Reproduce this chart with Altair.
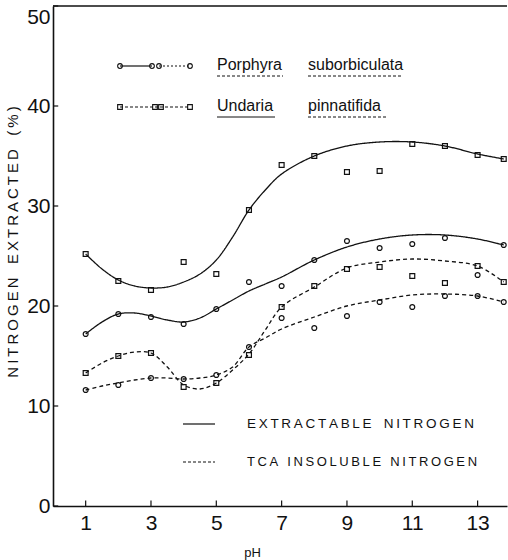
import altair as alt
import pandas as pd

# ---- measured points (pH, % nitrogen extracted) ----
ph = [1, 2, 3, 4, 5, 6, 7, 8, 9, 10, 11, 12, 13, 13.8]
porphyra_ext = [17.2, 19.2, 18.9, 18.2, 19.7, 22.4, 22.0, 24.6, 26.5, 25.8, 26.2, 26.8, 23.1, 26.1]
undaria_ext = [25.2, 22.5, 21.6, 24.4, 23.2, 29.6, 34.1, 35.0, 33.4, 33.5, 36.2, 36.0, 35.1, 34.7]
porphyra_tca = [11.6, 12.1, 12.8, 12.7, 13.1, 15.9, 18.8, 17.8, 19.0, 20.4, 19.9, 21.0, 21.0, 20.4]
undaria_tca = [13.3, 15.0, 15.3, 11.9, 12.3, 15.1, 19.9, 22.0, 23.7, 23.9, 23.0, 22.3, 24.0, 22.4]

# ---- hand-drawn fitted curves ----
curve_ph = [1, 1.5, 2, 2.5, 3, 3.5, 4, 4.5, 5, 5.5, 6, 6.5, 7, 8, 9, 10, 11, 12, 13, 13.8]
undaria_ext_curve = [25.2, 23.7, 22.6, 22.0, 21.8, 21.9, 22.4, 23.2, 24.6, 26.9, 29.6, 31.6, 33.2, 35.0, 36.0, 36.4, 36.4, 36.0, 35.2, 34.7]
porphyra_ext_curve = [17.2, 18.4, 19.2, 19.3, 19.0, 18.6, 18.4, 18.8, 19.7, 20.6, 21.5, 22.2, 22.9, 24.6, 25.9, 26.7, 27.1, 27.1, 26.7, 26.1]
undaria_tca_curve = [13.3, 14.3, 15.0, 15.4, 15.3, 13.9, 12.1, 11.7, 12.3, 13.6, 15.2, 17.6, 19.9, 21.9, 23.8, 24.4, 24.7, 24.5, 24.0, 22.4]
porphyra_tca_curve = [11.6, 12.0, 12.3, 12.6, 12.8, 12.8, 12.7, 12.8, 13.1, 13.9, 15.9, 16.8, 17.7, 18.9, 20.0, 20.6, 21.1, 21.2, 21.0, 20.4]

x_ticks = [1, 3, 5, 7, 9, 11, 13]
y_ticks = [0, 10, 20, 30, 40, 50]

FONT = "Liberation Sans"
INK = "#111111"
THIN = "\u2009"
GAP = "\u2002" + THIN + THIN
GAP_S = "\u2002" + THIN


def spaced(s):
    return THIN.join(list(s))


series = [
    ("Porphyra", "ext", porphyra_ext, porphyra_ext_curve),
    ("Undaria", "ext", undaria_ext, undaria_ext_curve),
    ("Porphyra", "tca", porphyra_tca, porphyra_tca_curve),
    ("Undaria", "tca", undaria_tca, undaria_tca_curve),
]
pt_rows, cv_rows = [], []
for sp, fr, vals, cvals in series:
    for p, v in zip(ph, vals):
        pt_rows.append(dict(ph=p, value=v, species=sp, fraction=fr, series=sp + fr))
    for p, v in zip(curve_ph, cvals):
        cv_rows.append(dict(ph=p, value=v, species=sp, fraction=fr, series=sp + fr))
points_df = pd.DataFrame(pt_rows)
curves_df = pd.DataFrame(cv_rows)

xscale = alt.Scale(domain=[0, 13.9], nice=False, zero=False)
yscale = alt.Scale(domain=[0, 50], nice=False)

x_axis = alt.Axis(values=x_ticks, format="d", ticks=False, grid=False,
                  labelFont=FONT, labelFontSize=21, labelColor=INK, labelPadding=6,
                  domainColor=INK, domainWidth=1.6,
                  title="pH", titleFont=FONT, titleFontSize=13, titleFontWeight="normal",
                  titleColor=INK, titleX=199, titleY=46, titleAlign="center", titleBaseline="middle")
y_axis = alt.Axis(values=y_ticks, format="d", ticks=False, grid=False,
                  labelFont=FONT, labelFontSize=21, labelColor=INK, labelPadding=3,
                  labelBaseline={"condition": {"test": "datum.value == 50", "value": "top"}, "value": "middle"},
                  domainColor=INK, domainWidth=1.6, title=None)


def X(field):
    return alt.X(field, scale=xscale, axis=x_axis, title="pH")


def Y(field):
    return alt.Y(field, scale=yscale, axis=y_axis, title=None)


curves = alt.Chart(curves_df).mark_line(interpolate="catmull-rom", color=INK, strokeWidth=1.3).encode(
    x=X("ph:Q"),
    y=Y("value:Q"),
    detail="series:N",
    strokeDash=alt.StrokeDash("fraction:N", scale=alt.Scale(domain=["ext", "tca"], range=[[1, 0], [4, 3]]), legend=None),
)

points = alt.Chart(points_df).mark_point(filled=False, size=24, strokeWidth=1.2, color=INK, opacity=1).encode(
    x=X("ph:Q"),
    y=Y("value:Q"),
    shape=alt.Shape("species:N", scale=alt.Scale(domain=["Porphyra", "Undaria"], range=["circle", "square"]), legend=None),
)

# inward ticks and top frame line
xt = alt.Chart(pd.DataFrame({"t": x_ticks, "lo": [0] * len(x_ticks), "hi": [0.55] * len(x_ticks)})).mark_rule(
    color=INK, strokeWidth=1.2).encode(x=X("t:Q"), y=Y("lo:Q"), y2="hi:Q")
yt = alt.Chart(pd.DataFrame({"t": y_ticks, "lo": [0] * len(y_ticks), "hi": [0.16] * len(y_ticks)})).mark_rule(
    color=INK, strokeWidth=1.2).encode(y=Y("t:Q"), x=X("lo:Q"), x2="hi:Q")
top = alt.Chart(pd.DataFrame({"t": [50], "lo": [0], "hi": [13.9]})).mark_rule(color=INK, strokeWidth=1.4).encode(
    y=Y("t:Q"), x=X("lo:Q"), x2="hi:Q")

one = pd.DataFrame({"a": [0]})


def txt(s, x, y, size, angle=0, font=FONT):
    return alt.Chart(one).mark_text(text=s, font=font, fontSize=size, angle=angle,
                                    align="left" if angle == 0 else "center", baseline="middle", color=INK
                                    ).encode(x=alt.value(x), y=alt.value(y))


def seg(x1, x2, y, dash=None, w=1.2):
    kw = dict(color=INK, strokeWidth=w)
    if dash:
        kw["strokeDash"] = dash
    return alt.Chart(one).mark_rule(**kw).encode(x=alt.value(x1), x2=alt.value(x2), y=alt.value(y))


def mk(x, y, shape):
    return alt.Chart(one).mark_point(shape=shape, filled=False, size=22, strokeWidth=1.1, color=INK, opacity=1
                                     ).encode(x=alt.value(x), y=alt.value(y))


# species legend (plot coordinates)
r1, r2 = 60, 101
legend_top = [
    seg(67, 99, r1), seg(106, 137, r1, dash=[2, 2]),
    mk(67, r1, "circle"), mk(99, r1, "circle"), mk(106, r1, "circle"), mk(137, r1, "circle"),
    seg(67, 137, r2, dash=[3, 2]),
    mk(67, r2, "square"), mk(102, r2, "square"), mk(108, r2, "square"), mk(137, r2, "square"),
    txt("Porphyra", 164, r1 - 1, 16), txt("suborbiculata", 255, r1 - 1, 16),
    txt("Undaria", 164, r2 - 1, 16), txt("pinnatifida", 255, r2 - 1, 16),
    seg(164, 230, r1 + 10, dash=[3, 2], w=1), seg(255, 348, r1 + 10, dash=[3, 2], w=1),
    seg(164, 222, r2 + 10, w=1), seg(255, 334, r2 + 10, dash=[3, 2], w=1),
]
# fraction legend
b1, b2 = 418, 456
legend_bottom = [
    seg(130, 162, b1), seg(130, 162, b2, dash=[3, 2]),
    txt(spaced("EXTRACTABLE") + GAP + spaced("NITROGEN"), 194, b1, 13.5),
    txt(spaced("TCA") + GAP_S + spaced("INSOLUBLE") + GAP_S + spaced("NITROGEN"), 194, b2, 13),
]
ytitle = txt(spaced("NITROGEN") + GAP + spaced("EXTRACTED") + GAP + "(" + THIN + "%" + THIN + ")", -40, 236, 15, angle=270)

chart = alt.layer(curves, points, xt, yt, top, *legend_top, *legend_bottom, ytitle).properties(
    width=454, height=500,
    autosize=alt.AutoSizeParams(type="none"),
    padding={"left": 53, "top": 6, "right": 1, "bottom": 54},
    background="white",
).configure_view(stroke=None)

chart.save("out.html", embed_options={"renderer": "svg", "actions": False})
